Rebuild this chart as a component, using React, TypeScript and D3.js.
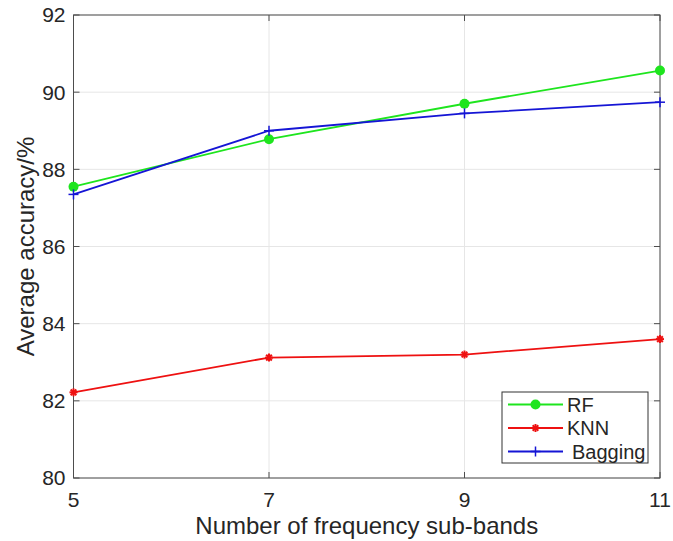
import React, { useEffect, useRef } from 'react';
import * as d3 from 'd3';

const subBands = [5, 7, 9, 11];
const rfValues = [87.55, 88.78, 89.7, 90.56];
const knnValues = [82.22, 83.12, 83.2, 83.6];
const baggingValues = [87.35, 89.0, 89.45, 89.74];
const yTicks = [80, 82, 84, 86, 88, 90, 92];

const W = 673;
const H = 541;

const App: React.FC = () => {
  const svgRef = useRef<SVGSVGElement>(null);

  useEffect(() => {
    if (!svgRef.current) return;
    const svg = d3.select(svgRef.current);
    svg.selectAll('*').remove();

    const margin = { top: 15, right: 13, bottom: 63, left: 73.5 };
    const innerW = W - margin.left - margin.right;
    const innerH = H - margin.top - margin.bottom;
    const font = 'Arial, "Liberation Sans", sans-serif';
    const axisColor = '#4d4d4d';
    const textColor = '#262626';

    const x = d3.scaleLinear().domain([5, 11]).range([0, innerW]);
    const y = d3.scaleLinear().domain([80, 92]).range([innerH, 0]);

    const g = svg.append('g').attr('transform', `translate(${margin.left},${margin.top})`);

    // grid
    g.selectAll('line.gx')
      .data(subBands)
      .join('line')
      .attr('x1', d => x(d)).attr('x2', d => x(d))
      .attr('y1', 0).attr('y2', innerH)
      .attr('stroke', '#e6e6e6').attr('stroke-width', 1);
    g.selectAll('line.gy')
      .data(yTicks)
      .join('line')
      .attr('x1', 0).attr('x2', innerW)
      .attr('y1', d => y(d)).attr('y2', d => y(d))
      .attr('stroke', '#e6e6e6').attr('stroke-width', 1);

    // box
    g.append('rect')
      .attr('width', innerW).attr('height', innerH)
      .attr('fill', 'none').attr('stroke', axisColor).attr('stroke-width', 1);

    // ticks inward on all sides
    const tl = 6;
    subBands.forEach(v => {
      g.append('line').attr('x1', x(v)).attr('x2', x(v)).attr('y1', innerH).attr('y2', innerH - tl).attr('stroke', axisColor);
      g.append('line').attr('x1', x(v)).attr('x2', x(v)).attr('y1', 0).attr('y2', tl).attr('stroke', axisColor);
      g.append('text')
        .attr('x', x(v)).attr('y', innerH + 29)
        .attr('text-anchor', 'middle')
        .attr('font-family', font).attr('font-size', 21).attr('fill', textColor)
        .text(v);
    });
    yTicks.forEach(v => {
      g.append('line').attr('x1', 0).attr('x2', tl).attr('y1', y(v)).attr('y2', y(v)).attr('stroke', axisColor);
      g.append('line').attr('x1', innerW).attr('x2', innerW - tl).attr('y1', y(v)).attr('y2', y(v)).attr('stroke', axisColor);
      g.append('text')
        .attr('x', -8).attr('y', y(v)).attr('dy', '0.35em')
        .attr('text-anchor', 'end')
        .attr('font-family', font).attr('font-size', 21).attr('fill', textColor)
        .text(v);
    });

    const series = [
      { name: 'RF', values: rfValues, color: '#1ee51e', marker: 'circle' },
      { name: 'KNN', values: knnValues, color: '#ee1111', marker: 'star' },
      { name: 'Bagging', values: baggingValues, color: '#1515d5', marker: 'plus' },
    ];

    const line = d3.line<number>()
      .x((_, i) => x(subBands[i]))
      .y(d => y(d));

    const drawMarker = (sel: any, type: string, cx: number, cy: number, color: string) => {
      if (type === 'circle') {
        sel.append('circle').attr('cx', cx).attr('cy', cy).attr('r', 5).attr('fill', color);
      } else if (type === 'star') {
        const r = 4;
        [0, 45, 90, 135].forEach(a => {
          const rad = (a * Math.PI) / 180;
          sel.append('line')
            .attr('x1', cx - r * Math.cos(rad)).attr('y1', cy - r * Math.sin(rad))
            .attr('x2', cx + r * Math.cos(rad)).attr('y2', cy + r * Math.sin(rad))
            .attr('stroke', color).attr('stroke-width', 2);
        });
      } else {
        const r = 5;
        sel.append('line').attr('x1', cx - r).attr('x2', cx + r).attr('y1', cy).attr('y2', cy).attr('stroke', color).attr('stroke-width', 1.5);
        sel.append('line').attr('x1', cx).attr('x2', cx).attr('y1', cy - r).attr('y2', cy + r).attr('stroke', color).attr('stroke-width', 1.5);
      }
    };

    series.forEach(s => {
      g.append('path')
        .datum(s.values)
        .attr('d', line)
        .attr('fill', 'none')
        .attr('stroke', s.color)
        .attr('stroke-width', 1.8);
      s.values.forEach((v, i) => drawMarker(g, s.marker, x(subBands[i]), y(v), s.color));
    });

    // legend
    const lg = svg.append('g').attr('transform', 'translate(502,392)');
    lg.append('rect').attr('width', 146).attr('height', 71)
      .attr('fill', 'white').attr('stroke', '#333').attr('stroke-width', 1);
    series.forEach((s, i) => {
      const cy = 12.5 + i * 23.5;
      lg.append('line').attr('x1', 6).attr('x2', 61).attr('y1', cy).attr('y2', cy)
        .attr('stroke', s.color).attr('stroke-width', 1.8);
      drawMarker(lg, s.marker, 33.5, cy, s.color);
      lg.append('text')
        .attr('x', s.name === 'Bagging' ? 70 : 65).attr('y', cy).attr('dy', '0.36em')
        .attr('font-family', font).attr('font-size', 20).attr('fill', textColor)
        .text(s.name);
    });

    // axis labels
    svg.append('text')
      .attr('x', margin.left + innerW / 2).attr('y', H - 7)
      .attr('text-anchor', 'middle')
      .attr('font-family', font).attr('font-size', 24).attr('fill', textColor)
      .text('Number of frequency sub-bands');

    svg.append('text')
      .attr('transform', `translate(34, ${margin.top + innerH / 2}) rotate(-90)`)
      .attr('text-anchor', 'middle')
      .attr('font-family', font).attr('font-size', 24).attr('fill', textColor)
      .text('Average accuracy/%');
  }, []);

  return (
    <svg
      ref={svgRef}
      width={W}
      height={H}
      style={{ position: 'absolute', left: 0, top: 0, background: 'white' }}
    />
  );
};

export default App;
